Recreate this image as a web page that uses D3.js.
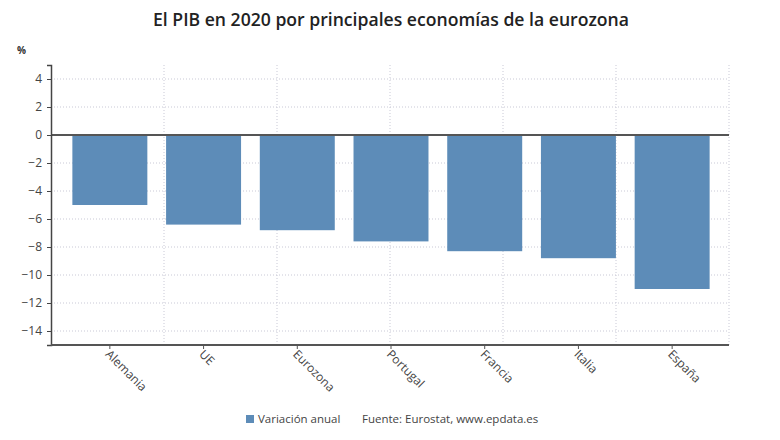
<!DOCTYPE html>
<html><head><meta charset="utf-8">
<script src="https://cdn.jsdelivr.net/npm/d3@7"></script>
<style>body{margin:0;background:#fff;} svg{display:block;font-family:"Open Sans",sans-serif;}</style>
</head><body>
<svg id="c" width="780" height="440"></svg>
<script>
const categories = ["Alemania","UE","Eurozona","Portugal","Francia","Italia","España"];
const values = [-5.0,-6.4,-6.8,-7.6,-8.3,-8.8,-11.0];
const yTicks = [4,2,0,-2,-4,-6,-8,-10,-12,-14];
const seriesName = "Variación anual";
const source = "Fuente: Eurostat, www.epdata.es";
const title = "El PIB en 2020 por principales economías de la eurozona";

const svg = d3.select("#c");
const L = 51, R = 729, T = 65, B = 345;
const y = d3.scaleLinear().domain([-15,5]).range([B,T]);
const x = d3.scaleBand().domain(categories).range([63,719]).paddingInner(0.2).paddingOuter(0.1);
const xg = d3.scaleLinear().domain([0,6]).range([L,R]);

// horizontal grid
svg.append("g").selectAll("line").data(yTicks).join("line")
  .attr("x1",L).attr("x2",R).attr("y1",d=>y(d)).attr("y2",d=>y(d))
  .attr("stroke","#c9c9d6").attr("stroke-width",1).attr("stroke-dasharray","1,2");
// vertical grid
svg.append("g").selectAll("line").data(d3.range(1,7)).join("line")
  .attr("x1",d=>xg(d)).attr("x2",d=>xg(d)).attr("y1",T).attr("y2",B)
  .attr("stroke","#c9c9d6").attr("stroke-width",1).attr("stroke-dasharray","1,2");

// bars
svg.append("g").selectAll("rect").data(values).join("rect")
  .attr("x",(d,i)=>x(categories[i])).attr("width",x.bandwidth())
  .attr("y",d=>y(Math.max(0,d))).attr("height",d=>Math.abs(y(d)-y(0)))
  .attr("fill","#5d8cb8");

// zero line
svg.append("line").attr("x1",L).attr("x2",R).attr("y1",y(0)).attr("y2",y(0))
  .attr("stroke","#555").attr("stroke-width",2);

// y axis
const ya = svg.append("g").attr("transform",`translate(${L},0)`)
  .call(d3.axisLeft(y).tickValues(yTicks).tickSize(4).tickPadding(5).tickFormat(d3.format("d")));
ya.select(".domain").attr("stroke","#444").attr("stroke-width",1.5);
ya.selectAll(".tick line").attr("stroke","#444");
ya.selectAll("text").attr("font-size",12).attr("fill","#444").attr("font-family","Open Sans");

// x axis
const xa = svg.append("g").attr("transform",`translate(0,${B})`)
  .call(d3.axisBottom(x).tickSize(4).tickSizeOuter(0));
xa.select(".domain").attr("d",`M${L},0H${R}`).attr("stroke","#555").attr("stroke-width",2);
xa.selectAll(".tick line").attr("stroke","#555");
xa.selectAll("text").attr("font-size",12).attr("fill","#444").attr("font-family","Open Sans")
  .attr("text-anchor","start").attr("dy",null).attr("y",null)
  .attr("transform","translate(-5,10) rotate(45)");

// % label
svg.append("text").attr("x",17).attr("y",54).text("%")
  .attr("font-size",10).attr("font-weight","bold").attr("fill","#333");

// title
svg.append("text").attr("x",391).attr("y",26).attr("text-anchor","middle")
  .attr("font-size",17.6).attr("font-weight",600).attr("fill","#222").text(title);

// legend
svg.append("rect").attr("x",246).attr("y",415).attr("width",8).attr("height",8).attr("fill","#5d8cb8");
svg.append("text").attr("x",258).attr("y",423).attr("font-size",11.5).attr("fill","#444").text(seriesName);
svg.append("text").attr("x",362).attr("y",423).attr("font-size",11.5).attr("fill","#444").text(source);
</script>
</body></html>
